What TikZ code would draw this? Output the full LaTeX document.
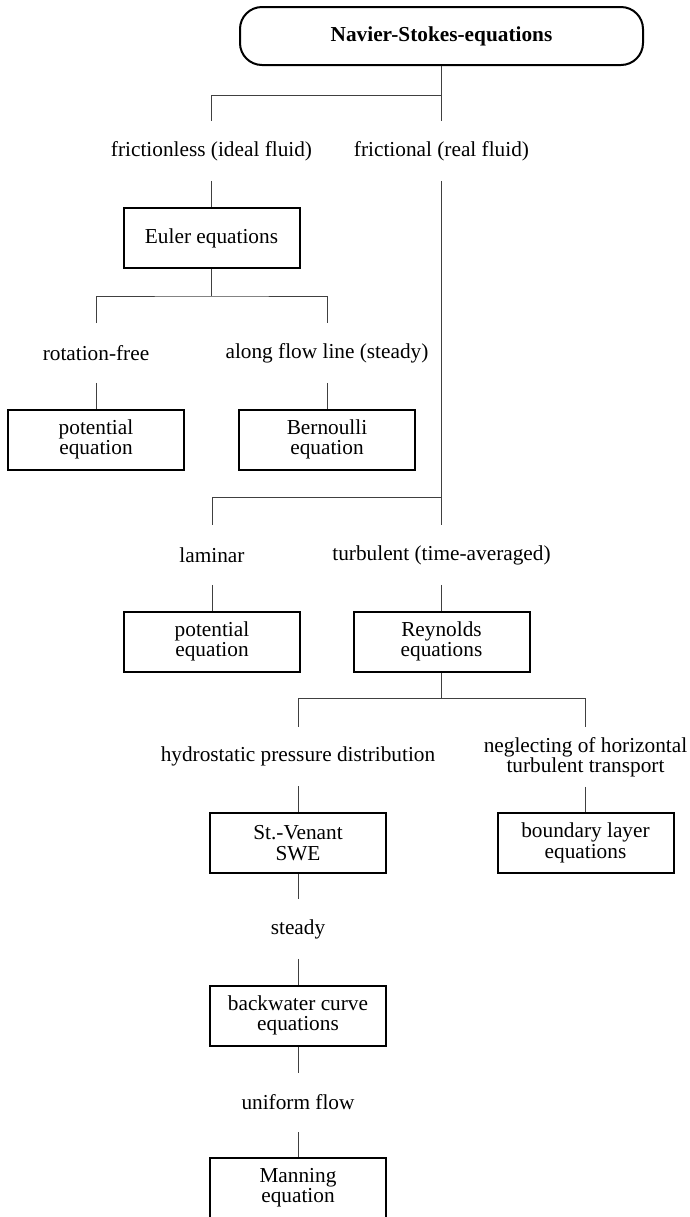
\documentclass[tikz,border=0pt]{standalone}
\usepackage{fontspec}
\setmainfont{Liberation Serif}
\begin{document}
\begin{tikzpicture}[x=0.5pt,y=-0.5pt,
    font=\fontsize{10.65}{10.2}\selectfont,
    box/.style={draw, line width=1pt, minimum width=88pt, minimum height=30pt, inner sep=0pt, align=center},
    lbl/.style={minimum height=29.5pt, inner sep=0pt, align=center},
    link/.style={line width=0.5pt, black!75}]
    \useasboundingbox (0,0) rectangle (690,1217);

    % top of the tree
    \node[box, rounded corners=11pt, minimum width=201.5pt, minimum height=29pt, font=\fontsize{10.65}{10.2}\selectfont\bfseries] (ns) at (441.5,36) {Navier-Stokes-equations};
    \node[lbl] (ideal) at (211.5,151) {frictionless (ideal fluid)};
    \node[lbl] (real) at (441.5,151) {frictional (real fluid)};

    % ideal fluid branch
    \node[box] (euler) at (211.5,238) {Euler equations};
    \node[lbl] (rot) at (96,353) {rotation-free};
    \node[lbl] (flow) at (327,353) {along flow line (steady)};
    \node[box] (pot) at (96,439.5) {potential\\equation};
    \node[box] (bern) at (327,439.5) {Bernoulli\\equation};

    % real fluid branch
    \node[lbl] (lam) at (212,555) {laminar};
    \node[lbl] (turb) at (441.5,555) {turbulent (time-averaged)};
    \node[box] (lampot) at (212,641.5) {potential\\equation};
    \node[box] (reyn) at (441.5,641.5) {Reynolds\\equations};
    \node[lbl] (hydro) at (298,756.5) {hydrostatic pressure distribution};
    \node[lbl] (negl) at (585.5,757) {neglecting of horizontal\\turbulent transport};
    \node[box] (venant) at (298,843) {St.-Venant\\SWE};
    \node[box] (bound) at (585.5,843) {boundary layer\\equations};
    \node[lbl] (steady) at (298,929) {steady};
    \node[box] (backw) at (298,1015.5) {backwater curve\\equations};
    \node[lbl] (unif) at (298,1102.5) {uniform flow};
    \node[box] (mann) at (298,1188) {Manning\\equation};

    \coordinate (j1) at (441.5,95);  \coordinate (j2) at (211.5,296);
    \coordinate (j3) at (441.5,497); \coordinate (j4) at (441.5,698);

    \draw[link] (ns) -- (real);  \draw[link] (j1) -| (ideal.north);
    \draw[link] (ideal) -- (euler);  \draw[link] (euler) -- (j2);
    \draw[link] (rot.north) |- (j2) -| (flow.north);
    \draw[link] (rot) -- (pot);  \draw[link] (flow) -- (bern);

    \draw[link] (real) -- (turb);  \draw[link] (j3) -| (lam.north);
    \draw[link] (lam) -- (lampot);  \draw[link] (turb) -- (reyn);
    \draw[link] (reyn) -- (j4);
    \draw[link] (hydro.north) |- (j4) -| (negl.north);
    \draw[link] (hydro) -- (venant);  \draw[link] (negl) -- (bound);
    \draw[link] (venant) -- (steady) -- (backw) -- (unif) -- (mann);
\end{tikzpicture}
\end{document}
